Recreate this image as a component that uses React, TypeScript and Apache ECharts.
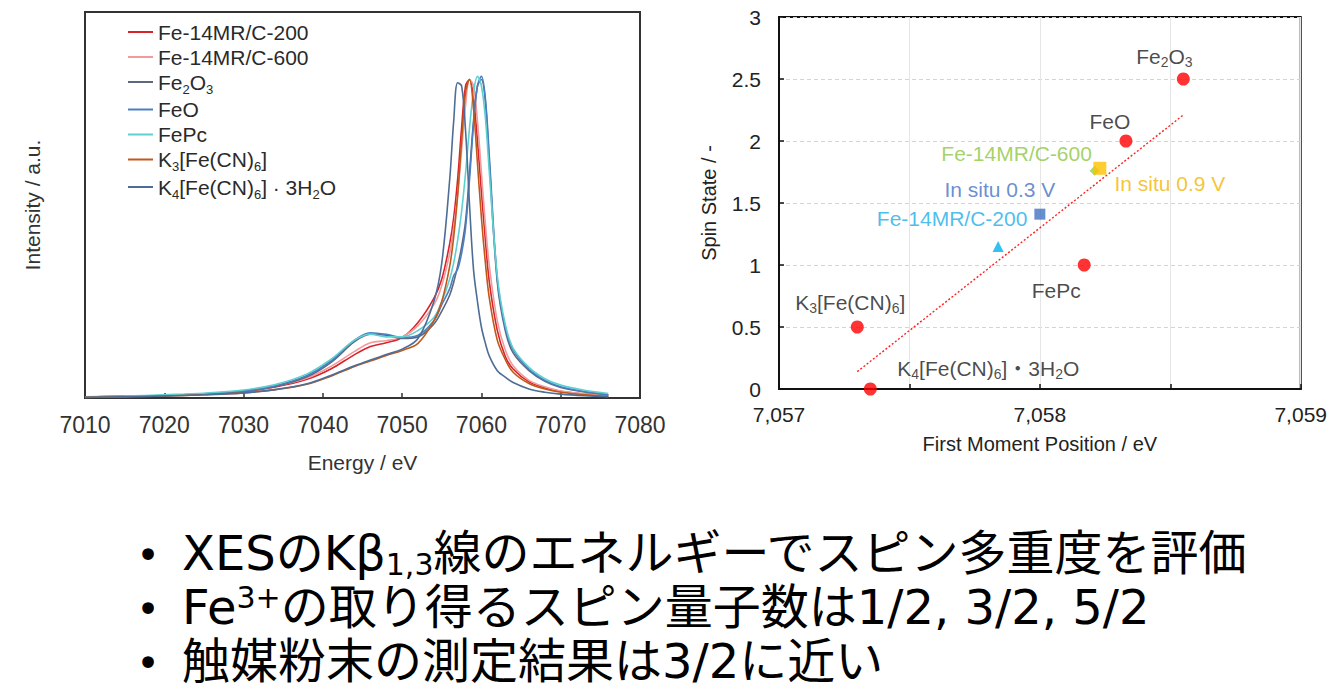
import React, { useEffect, useRef } from 'react';
import * as echarts from 'echarts';

// ---------- Left chart: Kβ XES spectra ----------
const energy = [7010, 7015, 7020, 7025, 7030, 7034, 7038, 7041, 7044, 7046, 7048, 7050, 7052, 7054, 7055, 7056, 7056.5, 7057, 7057.5, 7058, 7058.5, 7059, 7059.5, 7060, 7060.5, 7061, 7062, 7063, 7064, 7066, 7068, 7070, 7073, 7076];

const fe14mrC200 = [0.003, 0.005, 0.008, 0.012, 0.020, 0.034, 0.058, 0.090, 0.135, 0.160, 0.172, 0.188, 0.235, 0.310, 0.370, 0.480, 0.560, 0.680, 0.840, 0.970, 0.990, 0.930, 0.800, 0.640, 0.490, 0.360, 0.210, 0.130, 0.090, 0.050, 0.032, 0.021, 0.012, 0.006];
const fe14mrC600 = [0.003, 0.005, 0.008, 0.013, 0.022, 0.037, 0.062, 0.098, 0.145, 0.172, 0.178, 0.190, 0.225, 0.290, 0.350, 0.450, 0.530, 0.630, 0.770, 0.910, 0.990, 0.970, 0.860, 0.700, 0.540, 0.410, 0.240, 0.150, 0.100, 0.055, 0.035, 0.022, 0.013, 0.007];
const fe2o3 = [0.003, 0.005, 0.008, 0.012, 0.021, 0.036, 0.066, 0.110, 0.175, 0.198, 0.195, 0.185, 0.190, 0.230, 0.270, 0.320, 0.360, 0.410, 0.470, 0.550, 0.700, 0.860, 0.970, 0.990, 0.920, 0.730, 0.360, 0.210, 0.140, 0.085, 0.052, 0.033, 0.019, 0.010];
const feo = [0.003, 0.005, 0.008, 0.013, 0.022, 0.038, 0.070, 0.115, 0.180, 0.203, 0.198, 0.188, 0.195, 0.240, 0.290, 0.340, 0.380, 0.400, 0.450, 0.530, 0.680, 0.850, 0.970, 1.000, 0.930, 0.750, 0.370, 0.220, 0.150, 0.090, 0.055, 0.035, 0.020, 0.010];
const fepc = [0.004, 0.006, 0.010, 0.015, 0.025, 0.042, 0.075, 0.120, 0.180, 0.198, 0.190, 0.190, 0.210, 0.250, 0.300, 0.370, 0.420, 0.490, 0.580, 0.700, 0.840, 0.950, 1.000, 0.970, 0.870, 0.700, 0.380, 0.230, 0.155, 0.095, 0.060, 0.040, 0.024, 0.014];
const k3 = [0.002, 0.004, 0.006, 0.010, 0.016, 0.026, 0.043, 0.068, 0.098, 0.115, 0.132, 0.148, 0.170, 0.240, 0.300, 0.410, 0.500, 0.630, 0.800, 0.950, 0.990, 0.900, 0.730, 0.560, 0.420, 0.310, 0.180, 0.120, 0.080, 0.045, 0.028, 0.018, 0.010, 0.005];
const k4 = [0.002, 0.004, 0.006, 0.010, 0.016, 0.026, 0.044, 0.070, 0.100, 0.118, 0.135, 0.152, 0.185, 0.300, 0.420, 0.680, 0.860, 0.980, 0.970, 0.830, 0.600, 0.400, 0.300, 0.220, 0.170, 0.130, 0.085, 0.065, 0.048, 0.028, 0.018, 0.012, 0.007, 0.004];

const spectraNames = ['Fe-14MR/C-200', 'Fe-14MR/C-600', 'Fe2O3', 'FeO', 'FePc', 'K3[Fe(CN)6]', 'K4[Fe(CN)6] · 3H2O'];
const spectraValues = [fe14mrC200, fe14mrC600, fe2o3, feo, fepc, k3, k4];
const spectraColors = ['#d8232a', '#f29a9c', '#5c6780', '#4a7fc1', '#5fd0d0', '#c0581a', '#4d6d96'];
const legendRich: Record<string, string> = {
  'Fe2O3': 'Fe{s|2}O{s|3}',
  'K3[Fe(CN)6]': 'K{s|3}[Fe(CN){s|6}]',
  'K4[Fe(CN)6] · 3H2O': 'K{s|4}[Fe(CN){s|6}] · 3H{s|2}O',
};
const energyTicks = { min: 7010, max: 7080, interval: 10 };

// ---------- Right chart: spin state vs first moment ----------
const refNames = ['Fe2O3', 'FeO', 'FePc', 'K3[Fe(CN)6]', 'K4[Fe(CN)6]・3H2O'];
const refMoment = [7058.55, 7058.33, 7058.17, 7057.30, 7057.35];
const refSpin = [2.5, 2.0, 1.0, 0.5, 0.0];
const c600Point = [7058.21, 1.76];
const insitu09Point = [7058.23, 1.78];
const insitu03Point = [7058.0, 1.41];
const c200Point = [7057.84, 1.15];
const fitLine = [[7057.30, 0.14], [7058.55, 2.21]];

// label text + placement (layout only)
const refLabelText = ['Fe{s|2}O{s|3}', 'FeO', 'FePc', 'K{s|3}[Fe(CN){s|6}]', 'K{s|4}[Fe(CN){s|6}]・3H{s|2}O'];
const refLabelOffset = [[-19, -23], [-16, -20], [-28, 25], [-7, -25], [118, -21]];

// ---------- Bottom bullet text ----------
const bulletLines = [
  'XESのKβ{sub|1,3}線のエネルギーでスピン多重度を評価',
  'Fe{sup|3+}の取り得るスピン量子数は1/2, 3/2, 5/2',
  '触媒粉末の測定結果は3/2に近い',
];
const bulletY = [553, 607, 661];

const FONT = "'Liberation Sans', Arial, 'Noto Sans CJK JP', sans-serif";
const JFONT = "'DejaVu Sans', 'Noto Sans CJK JP', sans-serif";

function buildOption(): echarts.EChartsCoreOption {
  const lineSeries = spectraNames.map((name, i) => ({
    type: 'line',
    name,
    xAxisIndex: 0,
    yAxisIndex: 0,
    data: energy.map((e, j) => [e, spectraValues[i][j]]),
    smooth: 0.35,
    showSymbol: false,
    symbol: 'none',
    lineStyle: { color: spectraColors[i], width: 1.6 },
    itemStyle: { color: spectraColors[i] },
  }));

  const mkPoint = (p: number[], text: string, offset: number[], color: string) => ({
    value: p,
    label: {
      show: true,
      position: 'inside',
      fontSize: 21,
      fontFamily: FONT,
      textBorderWidth: 0,
      formatter: text,
      offset,
      color,
      rich: { s: { fontSize: 14, fontFamily: FONT, padding: [12, 0, 0, 0], color } },
    },
  });

  return {
    animation: false,
    backgroundColor: '#ffffff',
    textStyle: { fontFamily: FONT },
    grid: [
      { left: 85, top: 12, width: 555, height: 386, show: true, borderColor: '#333', borderWidth: 2, containLabel: false },
      { left: 779, top: 17, width: 528, height: 372, show: true, borderColor: '#111', borderWidth: 2, containLabel: false },
    ],
    legend: {
      data: spectraNames,
      orient: 'vertical',
      left: 123,
      top: 16,
      icon: 'rect',
      itemWidth: 25,
      itemHeight: 2,
      itemGap: 3,
      formatter: (name: string) => legendRich[name] || name,
      textStyle: {
        fontSize: 21,
        fontFamily: FONT,
        color: '#2a2a2a',
        lineHeight: 22,
        rich: { s: { fontSize: 13, fontFamily: FONT, color: '#2a2a2a', padding: [14, 0, 0, 0] } },
      },
    },
    xAxis: [
      {
        gridIndex: 0,
        type: 'value',
        ...energyTicks,
        name: 'Energy / eV',
        nameLocation: 'middle',
        nameGap: 54,
        nameTextStyle: { fontSize: 21, color: '#333', fontFamily: FONT },
        axisLine: { show: true, lineStyle: { color: '#333', width: 2 } },
        axisTick: { show: true, inside: true, length: 5, lineStyle: { color: '#333', width: 1.5 } },
        axisLabel: { fontSize: 23, color: '#333', margin: 15, fontFamily: FONT, formatter: (v: number) => String(v) },
        splitLine: { show: false },
      },
      {
        gridIndex: 1,
        type: 'value',
        min: 7057,
        max: 7059,
        interval: 0.5,
        name: 'First Moment Position / eV',
        nameLocation: 'middle',
        nameGap: 45,
        nameTextStyle: { fontSize: 20, color: '#222', fontFamily: FONT },
        axisLine: { show: true, lineStyle: { color: '#111', width: 2 } },
        axisTick: { show: true, inside: true, length: 5, lineStyle: { color: '#111', width: 1.5 } },
        axisLabel: {
          fontSize: 21,
          color: '#222',
          margin: 15,
          fontFamily: FONT,
          formatter: (v: number) => (Math.abs(v - Math.round(v)) < 1e-6 ? Math.round(v).toLocaleString('en-US') : ''),
        },
        splitLine: { show: true, lineStyle: { color: '#e6e6e6', width: 1, type: 'solid' } },
      },
    ],
    yAxis: [
      {
        gridIndex: 0,
        type: 'value',
        min: 0,
        max: 1.2,
        name: 'Intensity / a.u.',
        nameLocation: 'middle',
        nameGap: 42,
        nameTextStyle: { fontSize: 21, color: '#333', fontFamily: FONT },
        axisLine: { show: true, lineStyle: { color: '#333', width: 2 } },
        axisTick: { show: false },
        axisLabel: { show: false },
        splitLine: { show: false },
      },
      {
        gridIndex: 1,
        type: 'value',
        min: 0,
        max: 3,
        interval: 0.5,
        name: 'Spin State / -',
        nameLocation: 'middle',
        nameGap: 60,
        nameTextStyle: { fontSize: 20, color: '#222', fontFamily: FONT },
        axisLine: { show: true, lineStyle: { color: '#111', width: 2 } },
        axisTick: { show: true, inside: true, length: 5, lineStyle: { color: '#111', width: 1.5 } },
        axisLabel: { fontSize: 21, color: '#222', margin: 18, fontFamily: FONT },
        splitLine: { show: true, lineStyle: { color: '#d4d4d4', width: 1, type: [4, 3] } },
      },
    ],
    series: [
      ...lineSeries,
      {
        type: 'line',
        name: 'fit',
        xAxisIndex: 1,
        yAxisIndex: 1,
        data: fitLine,
        showSymbol: false,
        symbol: 'none',
        lineStyle: { color: '#ff2020', width: 1.4, type: [2, 2] },
        z: 1,
      },
      {
        type: 'scatter',
        name: 'references',
        xAxisIndex: 1,
        yAxisIndex: 1,
        symbol: 'circle',
        symbolSize: 13,
        itemStyle: { color: '#ff0000' },
        z: 3,
        data: refNames.map((n, i) => ({
          name: n,
          ...mkPoint([refMoment[i], refSpin[i]], refLabelText[i], refLabelOffset[i], '#1a1a1a'),
        })),
      },
      {
        type: 'scatter',
        name: 'Fe-14MR/C-600 point',
        xAxisIndex: 1,
        yAxisIndex: 1,
        symbol: 'diamond',
        symbolSize: 10,
        itemStyle: { color: '#92d050' },
        z: 3,
        data: [mkPoint(c600Point, 'Fe-14MR/C-600', [-78, -17], '#8cc63f')],
      },
      {
        type: 'scatter',
        name: 'In situ 0.9 V',
        xAxisIndex: 1,
        yAxisIndex: 1,
        symbol: 'rect',
        symbolSize: 13,
        itemStyle: { color: '#ffc000' },
        z: 4,
        data: [mkPoint(insitu09Point, 'In situ 0.9 V', [70, 15], '#f2b600')],
      },
      {
        type: 'scatter',
        name: 'In situ 0.3 V',
        xAxisIndex: 1,
        yAxisIndex: 1,
        symbol: 'rect',
        symbolSize: 11,
        itemStyle: { color: '#4472c4' },
        z: 4,
        data: [mkPoint(insitu03Point, 'In situ 0.3 V', [-40, -25], '#4472c4')],
      },
      {
        type: 'scatter',
        name: 'Fe-14MR/C-200 point',
        xAxisIndex: 1,
        yAxisIndex: 1,
        symbol: 'triangle',
        symbolSize: 11,
        itemStyle: { color: '#00b0f0' },
        z: 4,
        data: [mkPoint(c200Point, 'Fe-14MR/C-200', [-46, -28], '#1aaee8')],
      },
    ],
    graphic: [
      ...bulletY.map((y) => ({
        type: 'text',
        x: 148,
        y: y + 2,
        style: { text: '•', fontSize: 40, lineHeight: 24, fontFamily: JFONT, fill: '#000', align: 'center', verticalAlign: 'middle' },
      })),
      ...bulletLines.map((t, i) => ({
        type: 'text',
        x: 182,
        y: bulletY[i],
        style: {
          text: t,
          fontSize: 48,
          fontFamily: JFONT,
          fill: '#000',
          align: 'left',
          verticalAlign: 'middle',
          lineHeight: 44,
          rich: {
            sub: { fontSize: 30, fontFamily: JFONT, fill: '#000', padding: [22, 0, 0, 0], lineHeight: 44 },
            sup: { fontSize: 30, fontFamily: JFONT, fill: '#000', padding: [0, 0, 20, 0], lineHeight: 44 },
          },
        },
      })),
    ],
  };
}

export default function App() {
  const ref = useRef<HTMLDivElement>(null);
  useEffect(() => {
    if (!ref.current) return;
    const chart = echarts.init(ref.current, null, { renderer: 'svg' });
    chart.setOption(buildOption());
    return () => chart.dispose();
  }, []);
  return (
    <div
      ref={ref}
      style={{ position: 'absolute', left: 0, top: 0, width: 1330, height: 691, background: '#fff' }}
    />
  );
}
